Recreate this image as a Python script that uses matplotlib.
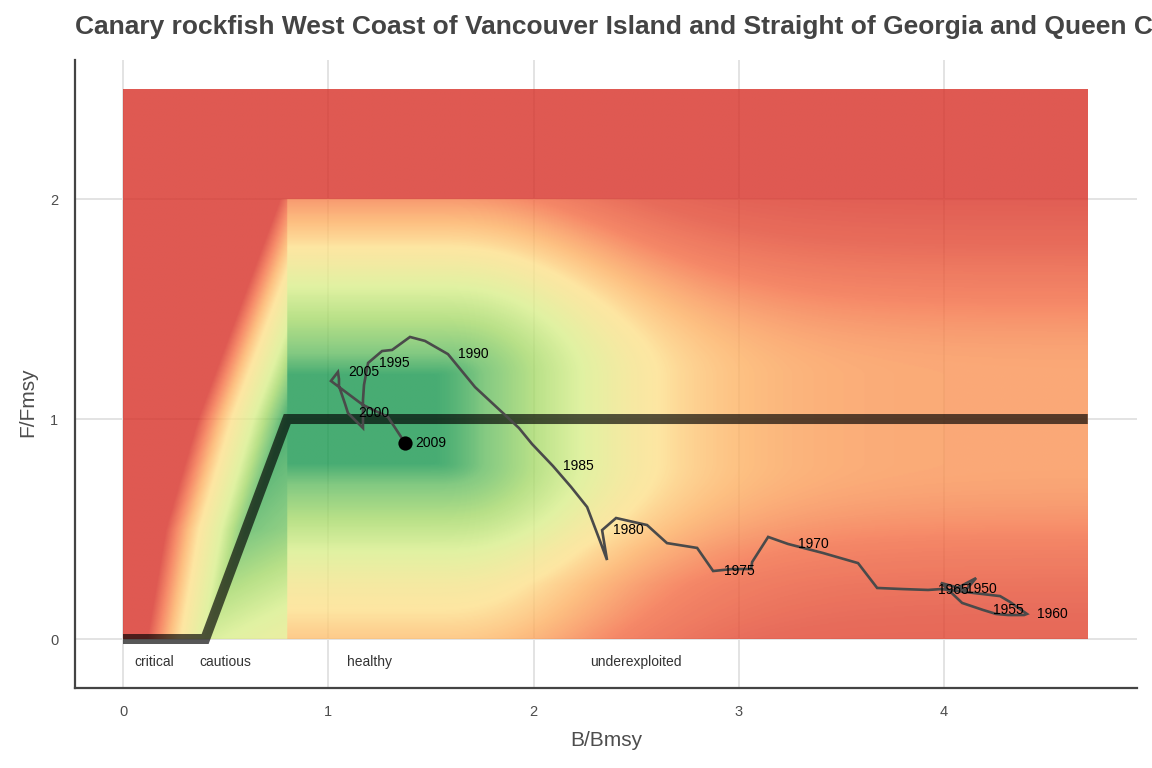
import numpy as np
import matplotlib
matplotlib.use("Agg")
import matplotlib.pyplot as plt
from matplotlib.colors import LinearSegmentedColormap

plt.rcParams['font.family'] = ['Liberation Sans', 'DejaVu Sans']

# ---------------- data ----------------
years = list(range(1950, 2010))
b_bmsy = [4.054, 4.156, 4.107, 3.985, 4.088, 4.190, 4.253, 4.312, 4.361, 4.390,
          4.404, 4.370, 4.322, 4.273, 3.985, 3.922, 3.800, 3.674, 3.581, 3.410,
          3.240, 3.143, 3.065, 3.060, 2.967, 2.875, 2.797, 2.650, 2.553, 2.402,
          2.334, 2.358, 2.324, 2.261, 2.183, 2.095, 1.993, 1.929, 1.851, 1.715,
          1.583, 1.471, 1.398, 1.311, 1.262, 1.194, 1.174, 1.169, 1.169, 1.169,
          1.096, 1.082, 1.067, 1.052, 1.052, 1.047, 1.013, 1.169, 1.291, 1.374]
f_fmsy = [0.227, 0.277, 0.223, 0.255, 0.164, 0.132, 0.114, 0.109, 0.109, 0.109,
          0.114, 0.136, 0.168, 0.195, 0.227, 0.223, 0.227, 0.232, 0.345, 0.391,
          0.432, 0.464, 0.350, 0.318, 0.318, 0.309, 0.414, 0.436, 0.518, 0.550,
          0.495, 0.359, 0.445, 0.600, 0.691, 0.786, 0.886, 0.959, 1.027, 1.145,
          1.295, 1.355, 1.373, 1.314, 1.309, 1.255, 1.155, 1.086, 1.018, 0.959,
          1.027, 1.068, 1.109, 1.150, 1.182, 1.214, 1.173, 1.064, 1.009, 0.891]
label_years = [1950, 1955, 1960, 1965, 1970, 1975, 1980, 1985, 1990, 1995, 2000, 2005, 2009]

hcr_b = [0.0, 0.4, 0.8, 4.7]
hcr_f = [0.0, 0.0, 1.0, 1.0]

zone_names = ["critical", "cautious", "healthy", "underexploited"]
zone_x = [0.15, 0.50, 1.20, 2.50]
zone_y = -0.105

bg_xmax, bg_ymax = 4.7, 2.5

palette = ['#d73027', '#f46d43', '#fdae61', '#fee08b',
           '#d9ef8b', '#a6d96a', '#66bd63', '#1a9850']
palette_pos = [0.0, 0.125, 0.25, 0.375, 0.625, 0.75, 0.875, 1.0]

title = "Canary rockfish West Coast of Vancouver Island and Straight of Georgia and Queen C"

# ---------------- background status surface ----------------
def right_score(x, y):
    e_up = np.clip(y - 1.2, 0, None)
    e_down = np.interp(1 - y, [0.2, 0.3, 0.45, 0.6, 0.75, 0.9, 1.0],
                       [0, 0.1, 0.25, 0.4, 0.52, 0.6, 0.66])
    ey = np.where(y >= 1, e_up, e_down)
    dx = np.clip(x - 1.5, 0, None)
    ex = 0.76 * (1 - np.exp(-(dx / 0.88) ** 1.6))
    p = 1.8
    e = (ex ** p + ey ** p) ** (1 / p)
    return np.interp(e, [0, 0.1, 0.25, 0.4, 0.52, 0.62, 0.7, 0.76, 0.85, 1.0, 1.2],
                     [1.0, 0.875, 0.75, 0.625, 0.45, 0.33, 0.25, 0.2, 0.12, 0.05, 0.0])

def status_score(x, y):
    s = right_score(x, y)
    xc = 0.4 + 0.4 * y
    smax = np.interp(y, [0, 0.5, 1.0], [0.65, 0.9, 1.0])
    sl = np.where(x <= xc, smax - 2.3 * (xc - x), smax - 0.3 * (x - xc))
    cap = np.where(y > 1, right_score(np.full_like(x, 0.8), y), 1.0)
    sl = np.minimum(sl, cap)
    s = np.where(x < 0.8, sl, s)
    s = np.where(y >= 2.0, 0.0, s)
    return np.clip(s, 0, 1)

nx, ny = 940, 500
gx = (np.arange(nx) + 0.5) / nx * bg_xmax
gy = (np.arange(ny) + 0.5) / ny * bg_ymax
GX, GY = np.meshgrid(gx, gy)
S = status_score(GX, GY)
cmap = LinearSegmentedColormap.from_list("status", list(zip(palette_pos, palette)))

# ---------------- figure ----------------
fig = plt.figure(figsize=(11.52, 7.68), dpi=100)
ax = fig.add_axes([75 / 1152, 1 - 688 / 768, (1137 - 75) / 1152, (688 - 60) / 768])

ax.imshow(S, cmap=cmap, vmin=0, vmax=1, origin='lower', aspect='auto',
          extent=[0, bg_xmax, 0, bg_ymax], alpha=0.8, interpolation='bilinear', zorder=1)

ax.plot(hcr_b, hcr_f, color='black', alpha=0.66, lw=7.2, solid_capstyle='butt',
        solid_joinstyle='miter', zorder=3)

ax.plot(b_bmsy, f_fmsy, color='#4a4a4a', lw=1.9, zorder=4, solid_joinstyle='miter')
ax.scatter([b_bmsy[-1]], [f_fmsy[-1]], s=105, color='black', zorder=5, linewidths=0)

for yr in label_years:
    i = years.index(yr)
    ax.annotate(str(yr), (b_bmsy[i], f_fmsy[i]), xytext=(7.5, 0), textcoords='offset points',
                ha='left', va='center', fontsize=10, color='black', zorder=6)

for name, zx in zip(zone_names, zone_x):
    ax.text(zx, zone_y, name, ha='center', va='center', fontsize=10, color='#333333', zorder=6)

ax.set_xlim(-0.234, 4.94)
ax.set_ylim(-0.2227, 2.632)
ax.set_xticks([0, 1, 2, 3, 4])
ax.set_yticks([0, 1, 2])
ax.grid(True, color='#e3e3e3', lw=1.4, zorder=0)
ax.set_axisbelow(True)
for side in ['top', 'right']:
    ax.spines[side].set_visible(False)
for side in ['left', 'bottom']:
    ax.spines[side].set_color('#444444')
    ax.spines[side].set_linewidth(1.6)
ax.tick_params(length=0, labelsize=10.5, labelcolor='#4d4d4d', pad=12)

fig.text(606 / 1152, 1 - 740 / 768, "B/Bmsy", ha='center', va='center', fontsize=15, color='#4d4d4d')
fig.text(28 / 1152, 1 - 402 / 768, "F/Fmsy", ha='center', va='center', fontsize=15,
         color='#4d4d4d', rotation=90)
fig.text(75 / 1152, 1 - 27 / 768, title, ha='left', va='center', fontsize=19,
         fontweight='bold', color='#444444')

fig.savefig("out.png", dpi=100)
